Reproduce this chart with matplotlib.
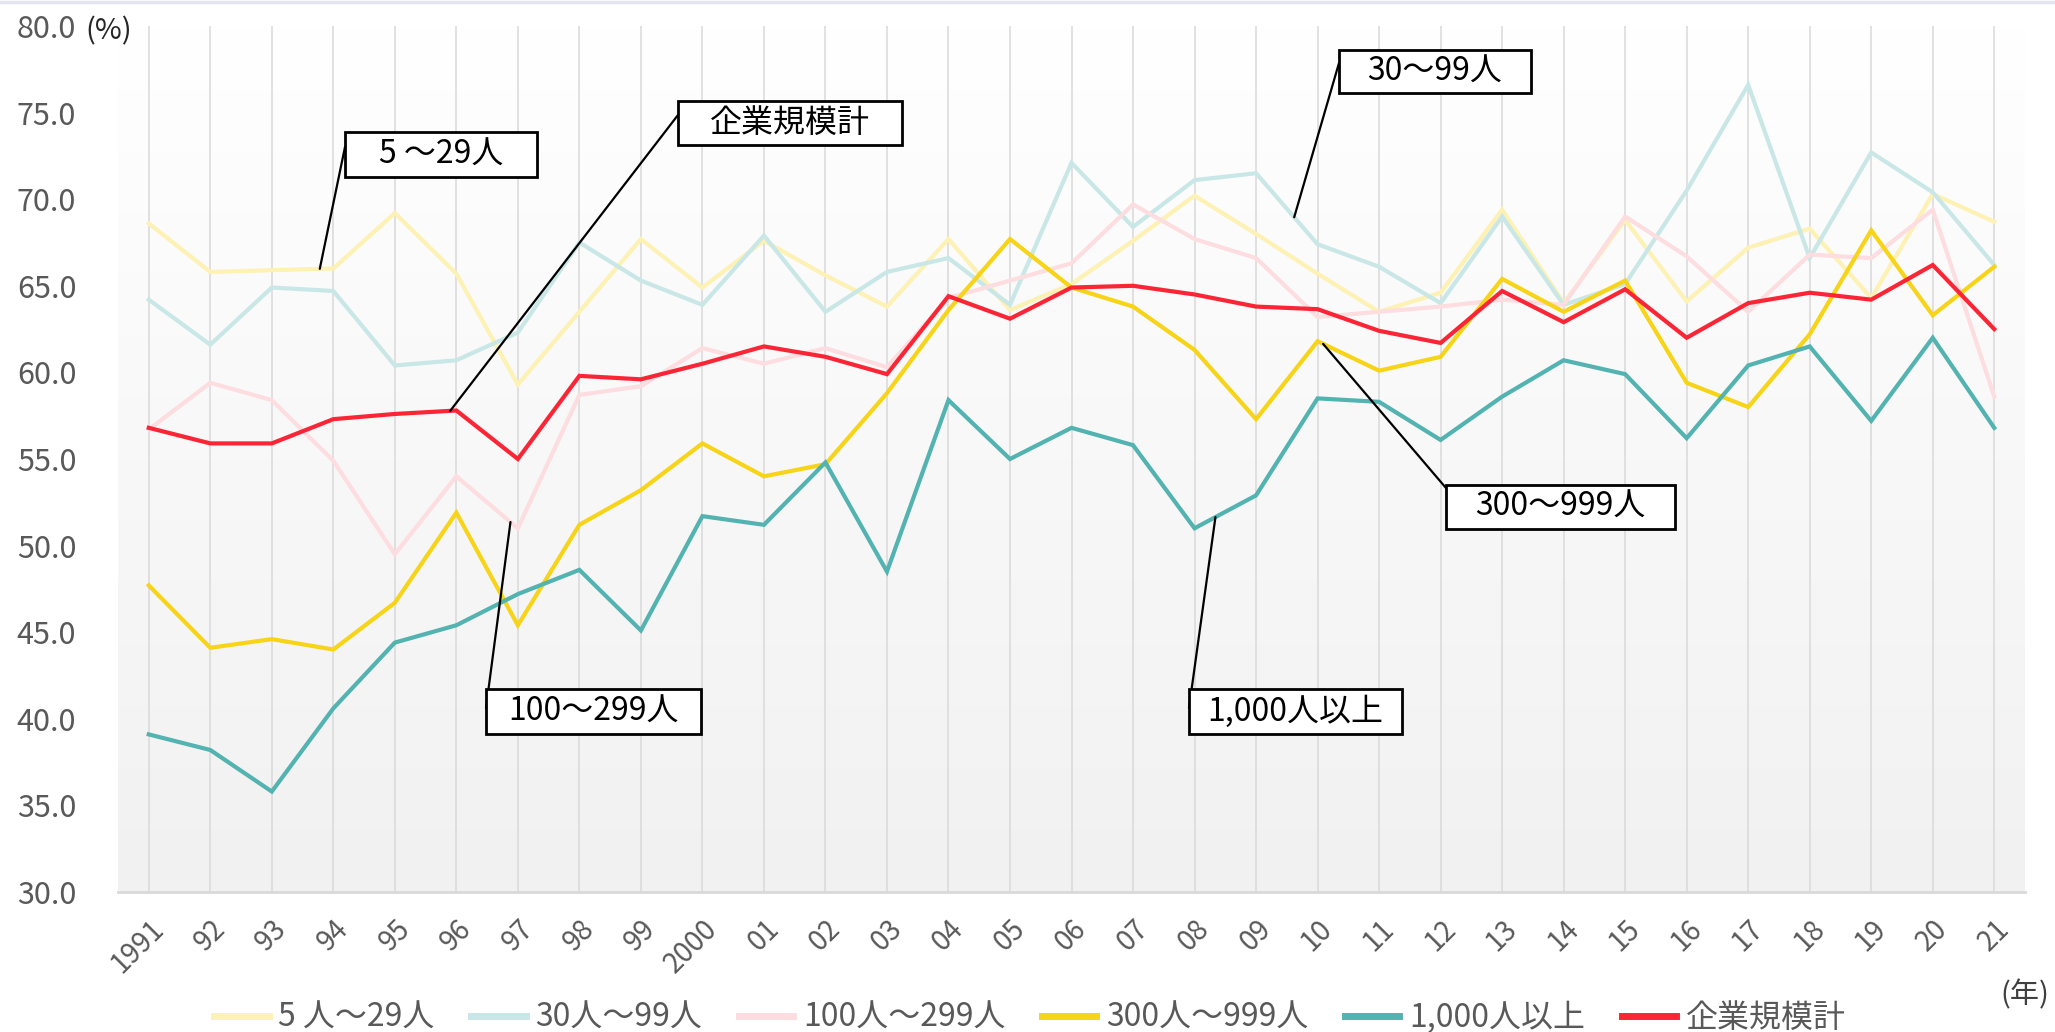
import matplotlib
matplotlib.use("Agg")
import matplotlib.pyplot as plt
import numpy as np
from matplotlib.colors import LinearSegmentedColormap
from matplotlib.patches import Rectangle
from matplotlib.lines import Line2D

plt.rcParams['font.family'] = ['Noto Sans CJK JP', 'DejaVu Sans']

years = ["1991", "92", "93", "94", "95", "96", "97", "98", "99", "2000",
         "01", "02", "03", "04", "05", "06", "07", "08", "09", "10",
         "11", "12", "13", "14", "15", "16", "17", "18", "19", "20", "21"]

# 5人～29人
small = [68.6, 65.8, 65.9, 66.0, 69.2, 65.7, 59.3, 63.5, 67.7, 64.9,
         67.6, 65.6, 63.8, 67.7, 63.6, 65.1, 67.6, 70.2, 68.0, 65.7,
         63.5, 64.6, 69.4, 64.0, 68.8, 64.1, 67.2, 68.3, 64.3, 70.3, 68.7]
# 30人～99人
mid30 = [64.2, 61.6, 64.9, 64.7, 60.4, 60.7, 62.3, 67.5, 65.3, 63.9,
         67.9, 63.5, 65.8, 66.6, 63.9, 72.1, 68.4, 71.1, 71.5, 67.4,
         66.1, 64.0, 69.0, 63.9, 65.1, 70.5, 76.6, 66.6, 72.7, 70.4, 66.2]
# 100人～299人
mid100 = [56.7, 59.4, 58.4, 54.9, 49.5, 54.0, 51.0, 58.7, 59.2, 61.4,
          60.5, 61.4, 60.3, 64.3, 65.3, 66.3, 69.7, 67.7, 66.6, 63.2,
          63.5, 63.8, 64.2, 63.9, 69.0, 66.7, 63.5, 66.8, 66.6, 69.4, 58.6]
# 300人～999人
mid300 = [47.7, 44.1, 44.6, 44.0, 46.7, 51.9, 45.4, 51.2, 53.2, 55.9,
          54.0, 54.7, 58.8, 63.6, 67.7, 64.9, 63.8, 61.3, 57.3, 61.8,
          60.1, 60.9, 65.4, 63.5, 65.3, 59.4, 58.0, 62.2, 68.2, 63.3, 66.1]
# 1,000人以上
large = [39.1, 38.2, 35.8, 40.6, 44.4, 45.4, 47.2, 48.6, 45.1, 51.7,
         51.2, 54.8, 48.5, 58.4, 55.0, 56.8, 55.8, 51.0, 52.9, 58.5,
         58.3, 56.1, 58.6, 60.7, 59.9, 56.2, 60.4, 61.5, 57.2, 62.0, 56.8]
# 企業規模計
total = [56.8, 55.9, 55.9, 57.3, 57.6, 57.8, 55.0, 59.8, 59.6, 60.5,
         61.5, 60.9, 59.9, 64.4, 63.1, 64.9, 65.0, 64.5, 63.8, 63.65,
         62.4, 61.7, 64.7, 62.9, 64.8, 62.0, 64.0, 64.6, 64.2, 66.2, 62.5]

legend_labels = ["5 人～29人", "30人～99人", "100人～299人", "300人～999人", "1,000人以上", "企業規模計"]
box_labels = ["5 ～29人", "30～99人", "100～299人", "300～999人", "1,000人以上", "企業規模計"]
colors = ["#fdf1b4", "#c8e7e6", "#fddde0", "#f7d417", "#52b3b1", "#fc2535"]

W, H = 2055, 1032
fig = plt.figure(figsize=(W / 100, H / 100), dpi=100)
ax = fig.add_axes([118 / W, 1 - 892 / H, (2025 - 118) / W, (892 - 26) / H])

x = np.arange(len(years))
series = [small, mid30, mid100, mid300, large, total]

# gradient background of the plot area
cmap = LinearSegmentedColormap.from_list("bg", ["#f1f1f1", "#ffffff"])
grad = np.linspace(0, 1, 256).reshape(-1, 1)
ax.imshow(grad, extent=[-0.5, 30.5, 30, 80], aspect="auto", cmap=cmap,
          origin="lower", zorder=0)

for xi in x:
    ax.axvline(xi, color="#d9d9d9", lw=1.1, zorder=1)

for s, c, lab in zip(series, colors, legend_labels):
    ax.plot(x, s, color=c, lw=3.0, label=lab, zorder=3, solid_joinstyle="miter")

ax.set_xlim(-0.5, 30.5)
ax.set_ylim(30, 80)
ax.set_yticks(np.arange(30, 80.1, 5))
ax.set_yticklabels([f"{v:.1f}" for v in np.arange(30, 80.1, 5)], fontsize=22, color="#595959")
ax.set_xticks(x)
ax.set_xticklabels(years, rotation=45, ha="right", va="top", rotation_mode="anchor",
                   fontsize=20, color="#595959")
ax.tick_params(axis="y", length=0, pad=30)
ax.tick_params(axis="x", length=0, pad=16)
for sp in ["top", "right", "left"]:
    ax.spines[sp].set_visible(False)
ax.spines["bottom"].set_color("#d9d9d9")
ax.spines["bottom"].set_linewidth(2)
ax.spines["bottom"].set_zorder(2)

# annotation boxes: series index, x position of leader end, box l, t, r, b and attach y (pixels)
boxes = [
    (0, 2.78, 345, 132, 537, 177, 147),
    (5, 4.9, 678, 101, 902, 145, 115),
    (1, 18.62, 1339, 50, 1531, 93, 63),
    (3, 19.09, 1446, 485, 1675, 529, 488),
    (2, 5.88, 486, 689, 701, 734, 708),
    (4, 17.34, 1189, 689, 1402, 734, 708),
]
for si, xe, l, t, r, b, ay in boxes:
    ye = np.interp(xe, x, series[si])
    ax.annotate("", xy=(xe, ye), xycoords="data",
                xytext=(l / W, 1 - ay / H), textcoords="figure fraction",
                arrowprops=dict(arrowstyle="-", color="black", lw=1.6,
                                shrinkA=0, shrinkB=0), zorder=5)
    rect = Rectangle((l / W, 1 - b / H), (r - l) / W, (b - t) / H,
                     transform=fig.transFigure, facecolor="white",
                     edgecolor="black", lw=2, zorder=6)
    fig.add_artist(rect)
    fig.text((l + r) / 2 / W, 1 - (t + b) / 2 / H, box_labels[si], ha="center", va="center",
             fontsize=23, color="black", zorder=7)

fig.text(109 / W, 1 - 31 / H, "(%)", ha="center", va="center", fontsize=21, color="#262626")
fig.text(2025 / W, 1 - 995 / H, "(年)", ha="center", va="center", fontsize=21, color="#404040")

leg = ax.legend(loc="center", bbox_to_anchor=(1030 / W, 1 - 1018 / H),
                bbox_transform=fig.transFigure, ncol=6, frameon=False,
                fontsize=23, handlelength=1.7, handletextpad=0.3, columnspacing=1.15)
for t in leg.get_texts():
    t.set_color("#595959")
for h in leg.legend_handles:
    h.set_linewidth(5)

fig.add_artist(Line2D([0, 1], [1 - 1.5 / H, 1 - 1.5 / H], transform=fig.transFigure,
                      color="#e4e4f0", lw=2.5))

fig.savefig("out.png", dpi=100, facecolor="white")
